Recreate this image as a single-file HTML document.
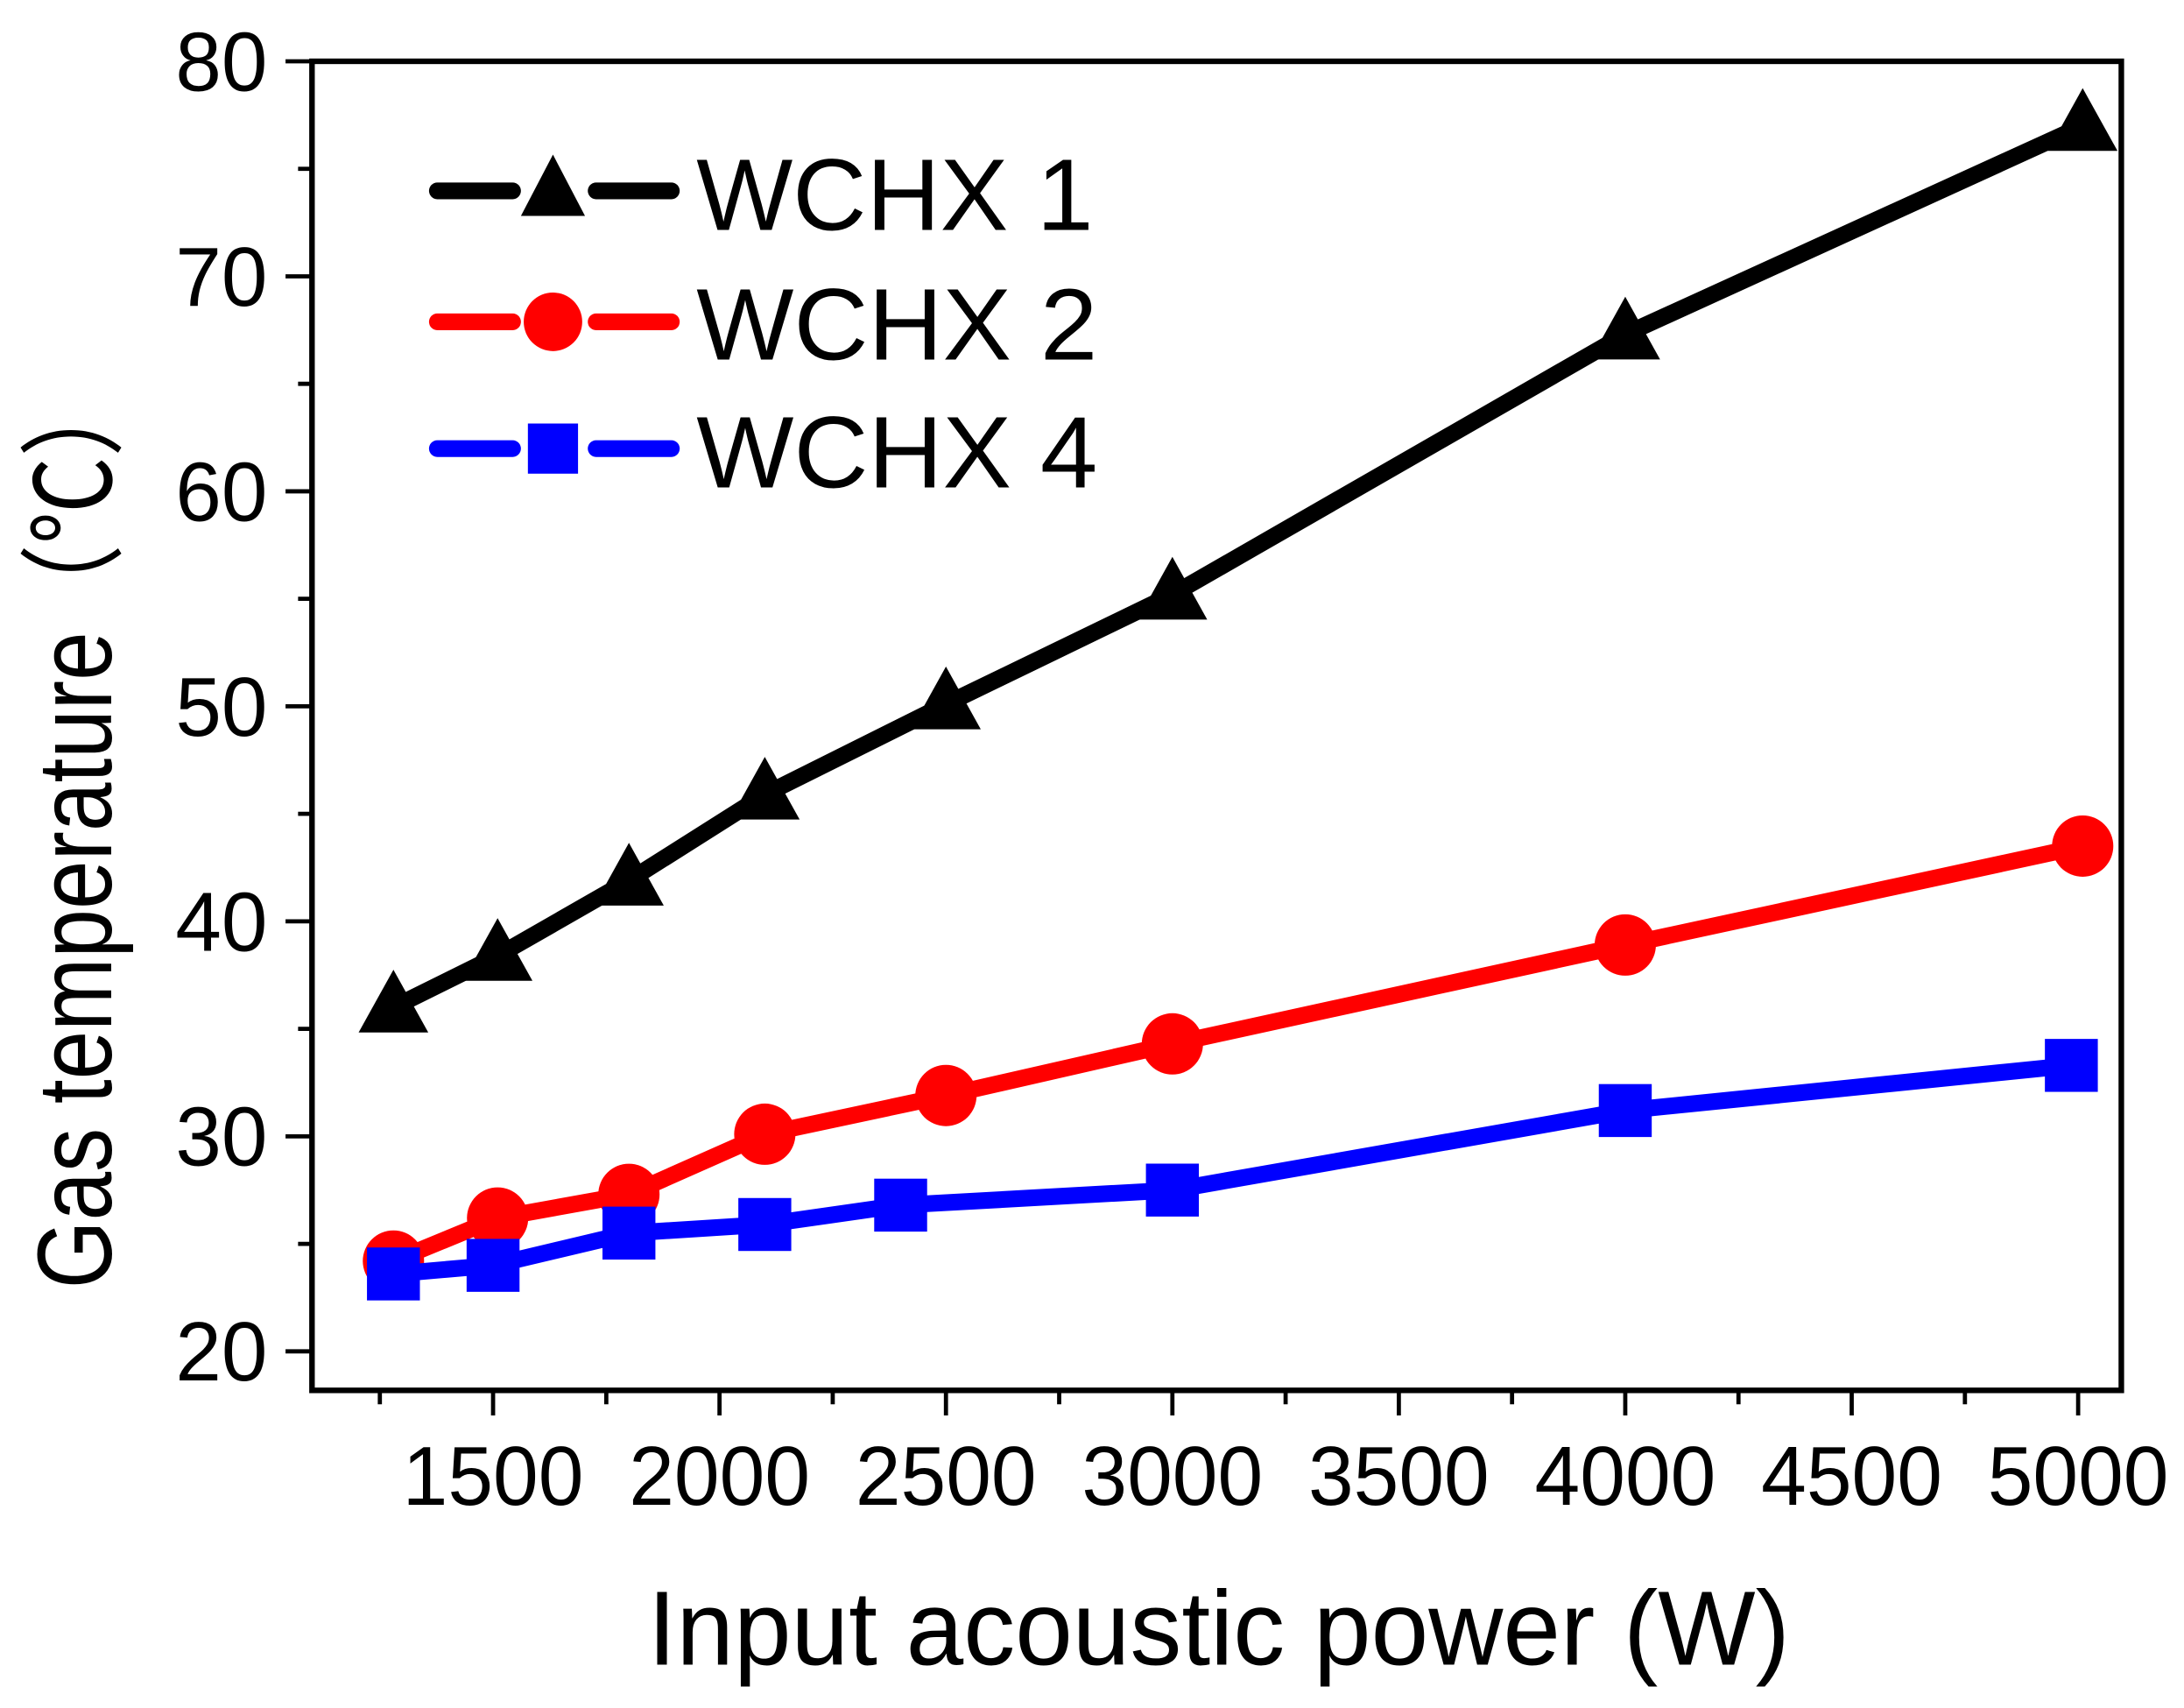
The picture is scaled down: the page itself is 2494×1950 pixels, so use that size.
<!DOCTYPE html>
<html><head><meta charset="utf-8"><style>
html,body{margin:0;padding:0;background:#fff;}
svg{display:block;}
text{font-family:"Liberation Sans","Noto Sans CJK SC",sans-serif;fill:#000;}
</style></head><body>
<svg id="chart" width="2494" height="1950" viewBox="0 0 1568 1226" preserveAspectRatio="none" xmlns="http://www.w3.org/2000/svg">
<rect x="224" y="44" width="1299" height="954" fill="none" stroke="#000" stroke-width="4"/>
<g id="axes"></g>
<g id="series"></g>
<g>
  <line x1="314" y1="137" x2="368" y2="137" stroke="#000" stroke-width="12" stroke-linecap="round"/>
  <line x1="428" y1="137" x2="482" y2="137" stroke="#000" stroke-width="12" stroke-linecap="round"/>
  <polygon points="397,111 420,155 374,155" fill="#000"/>
  <text x="500" y="165" font-size="73" textLength="285" lengthAdjust="spacingAndGlyphs">WCHX 1</text>
  <line x1="314" y1="231" x2="368" y2="231" stroke="#f00" stroke-width="12" stroke-linecap="round"/>
  <line x1="428" y1="231" x2="482" y2="231" stroke="#f00" stroke-width="12" stroke-linecap="round"/>
  <circle cx="397" cy="231" r="21" fill="#f00"/>
  <text x="500" y="258" font-size="73" textLength="288" lengthAdjust="spacingAndGlyphs">WCHX 2</text>
  <line x1="314" y1="322" x2="368" y2="322" stroke="#00f" stroke-width="12" stroke-linecap="round"/>
  <line x1="428" y1="322" x2="482" y2="322" stroke="#00f" stroke-width="12" stroke-linecap="round"/>
  <rect x="379" y="304" width="36" height="36" fill="#00f"/>
  <text x="500" y="350" font-size="73" textLength="288" lengthAdjust="spacingAndGlyphs">WCHX 4</text>
</g>
<text x="875" y="1195" font-size="76" text-anchor="middle" textLength="820" lengthAdjust="spacingAndGlyphs">Input acoustic power (W)</text>
<text transform="translate(80,595) rotate(-90)" font-size="76" text-anchor="middle" textLength="660" lengthAdjust="spacingAndGlyphs">Gas temperature（℃）</text>
</svg>
<script>
const xTicks = [1500, 2000, 2500, 3000, 3500, 4000, 4500, 5000];
const xMinorTicks = [1250, 1750, 2250, 2750, 3250, 3750, 4250, 4750];
const yTicks = [20, 30, 40, 50, 60, 70, 80];
const yMinorTicks = [25, 35, 45, 55, 65, 75];
const x1 = [1280, 1510, 1800, 2100, 2500, 3000, 4000, 5010];
const y1 = [36.0, 38.4, 41.9, 45.9, 50.1, 55.2, 67.3, 77.0];
const x2 = [1280, 1510, 1800, 2100, 2500, 3000, 4000, 5010];
const y2 = [24.2, 26.2, 27.3, 30.1, 31.9, 34.3, 38.9, 43.5];
const x4 = [1280, 1500, 1800, 2100, 2400, 3000, 4000, 4985];
const y4 = [23.6, 24.0, 25.5, 25.9, 26.8, 27.5, 31.2, 33.3];

const NS = "http://www.w3.org/2000/svg";
function sx(v){ return 354 + (v - 1500) * (1138 / 3500); }
function sy(v){ return 970 - (v - 20) * (926 / 60); }
function mk(tag, attrs, parent){
  const e = document.createElementNS(NS, tag);
  for (const k in attrs) e.setAttribute(k, attrs[k]);
  parent.appendChild(e);
  return e;
}
const axes = document.getElementById('axes');
xTicks.forEach(v => {
  const t = mk('line', {x1: sx(v), y1: 998, x2: sx(v), y2: 1016, stroke: '#000', 'stroke-width': 3}, axes);
  
  
  const l = mk('text', {x: sx(v), y: 1080, 'font-size': 60, 'text-anchor': 'middle', textLength: 130, lengthAdjust: 'spacingAndGlyphs'}, axes);
  l.textContent = v;
  
  
});
xMinorTicks.forEach(v => {
  const t = mk('line', {x1: sx(v), y1: 998, x2: sx(v), y2: 1008, stroke: '#000', 'stroke-width': 3}, axes);
  
  
});
yTicks.forEach(v => {
  const t = mk('line', {x1: 205, y1: sy(v), x2: 224, y2: sy(v), stroke: '#000', 'stroke-width': 3}, axes);
  
  
  const l = mk('text', {x: 192, y: sy(v) + 21, 'font-size': 60, 'text-anchor': 'end', textLength: 66, lengthAdjust: 'spacingAndGlyphs'}, axes);
  l.textContent = v;
  
  
});
yMinorTicks.forEach(v => {
  const t = mk('line', {x1: 214, y1: sy(v), x2: 224, y2: sy(v), stroke: '#000', 'stroke-width': 3}, axes);
  
  
});
const series = document.getElementById('series');
function drawSeries(xs, ys, color, shape, name){
  const pts = xs.map((v, i) => sx(v) + ',' + sy(ys[i])).join(' ');
  const pl = mk('polyline', {points: pts, fill: 'none', stroke: color, 'stroke-width': 12, 'stroke-linejoin': 'round'}, series);
  
  
  xs.forEach((v, i) => {
    const cx = sx(v), cy = sy(ys[i]);
    let m;
    if (shape === 'tri') m = mk('polygon', {points: `${cx},${cy-27} ${cx+25},${cy+18} ${cx-25},${cy+18}`, fill: color}, series);
    else if (shape === 'circ') m = mk('circle', {cx: cx, cy: cy, r: 22, fill: color}, series);
    else m = mk('rect', {x: cx - 19, y: cy - 19, width: 38, height: 38, fill: color}, series);
    
    
  });
}
drawSeries(x1, y1, '#000', 'tri', 'wchx1');
drawSeries(x2, y2, '#f00', 'circ', 'wchx2');
drawSeries(x4, y4, '#00f', 'sq', 'wchx4');
</script>
</body></html>
